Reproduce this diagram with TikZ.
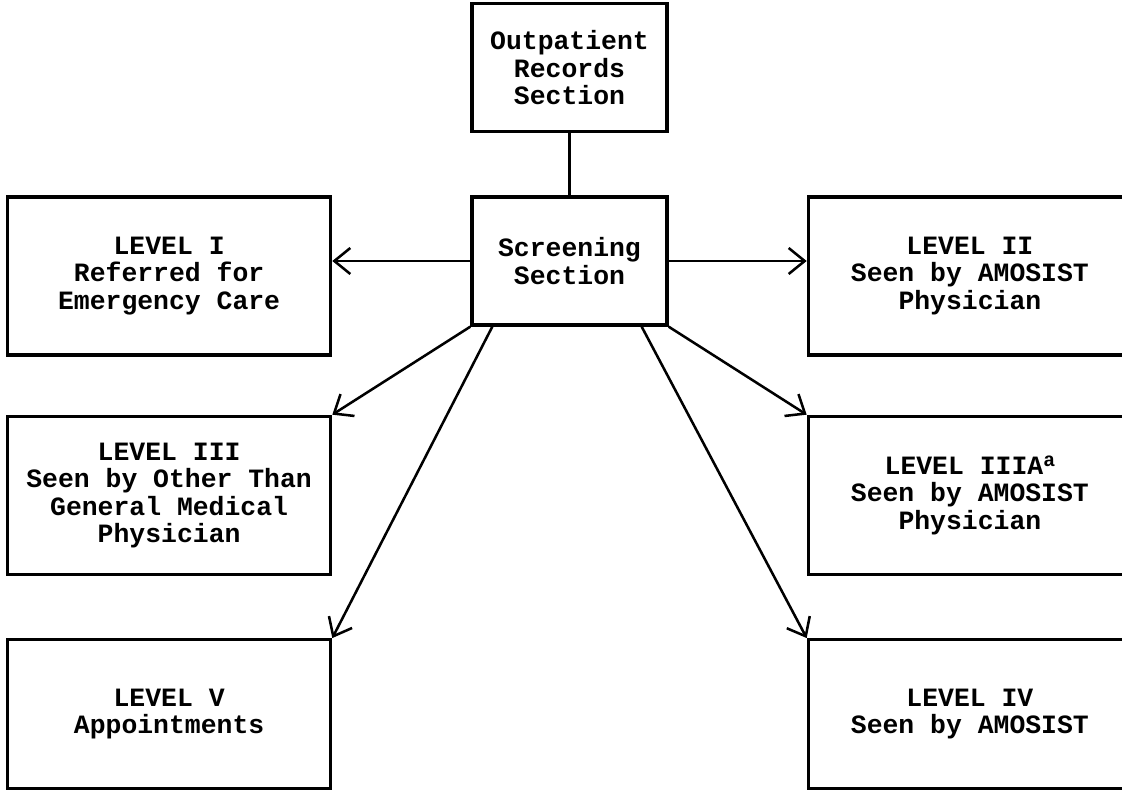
\documentclass[tikz,border=0pt]{standalone}
\usepackage{fontspec}
\setmonofont{Liberation Mono}
\usetikzlibrary{arrows.meta, positioning}

\begin{document}
\begin{tikzpicture}[
  node distance=1.5cm and 3.45cm,
  box/.style={rectangle, draw=black, line width=2.4pt, minimum width=4.875cm,
              minimum height=3.2cm, align=center, inner sep=0pt,
              font=\ttfamily\bfseries\fontsize{18.8}{19.6}\selectfont},
  levelbox/.style={box, minimum width=8.075cm, minimum height=3.95cm},
  arrow/.style={-{Straight Barb[length=4mm, width=6.5mm]}, line width=1.8pt},
  link/.style={line width=1.8pt}
]

\useasboundingbox (-14.2375,-13.25) rectangle (13.8125,6.525);

% Screening
\node[box] (screen) at (0,0) {Screening\\Section};

% Records
\node[box, above=1.55cm of screen] (records) {Outpatient\\Records\\Section};

% Left column
\node[levelbox, left=3.45cm of screen.north west, anchor=north east] (lvl1) {LEVEL I\\Referred for\\Emergency Care};
\node[levelbox, below=1.45cm of lvl1] (lvl3) {LEVEL III\\Seen by Other Than\\General Medical\\Physician};
\node[levelbox, minimum height=3.72cm, below=1.55cm of lvl3] (lvl5) {LEVEL V\\Appointments};

% Right column
\node[levelbox, right=3.45cm of screen.north east, anchor=north west] (lvl2) {LEVEL II\\Seen by AMOSIST\\Physician};
\node[levelbox, below=1.45cm of lvl2] (lvl3a) {LEVEL IIIA\raisebox{0.55ex}{\fontsize{14}{14}\selectfont a}\\Seen by AMOSIST\\Physician};
\node[levelbox, minimum height=3.72cm, below=1.55cm of lvl3a] (lvl4) {LEVEL IV\\Seen by AMOSIST};

% Edges
\draw[link] (records) -- (screen);
\draw[arrow] (screen.west) -- (screen.west -| lvl1.east);
\draw[arrow] (screen.east) -- (screen.east -| lvl2.west);
\draw[arrow] (screen.south west) -- (lvl3.north east);
\draw[arrow] ([xshift=0.55cm]screen.south west) -- (lvl5.north east);
\draw[arrow] ([xshift=-0.675cm]screen.south east) -- (lvl4.north west);
\draw[arrow] (screen.south east) -- (lvl3a.north west);
\end{tikzpicture}
\end{document}
